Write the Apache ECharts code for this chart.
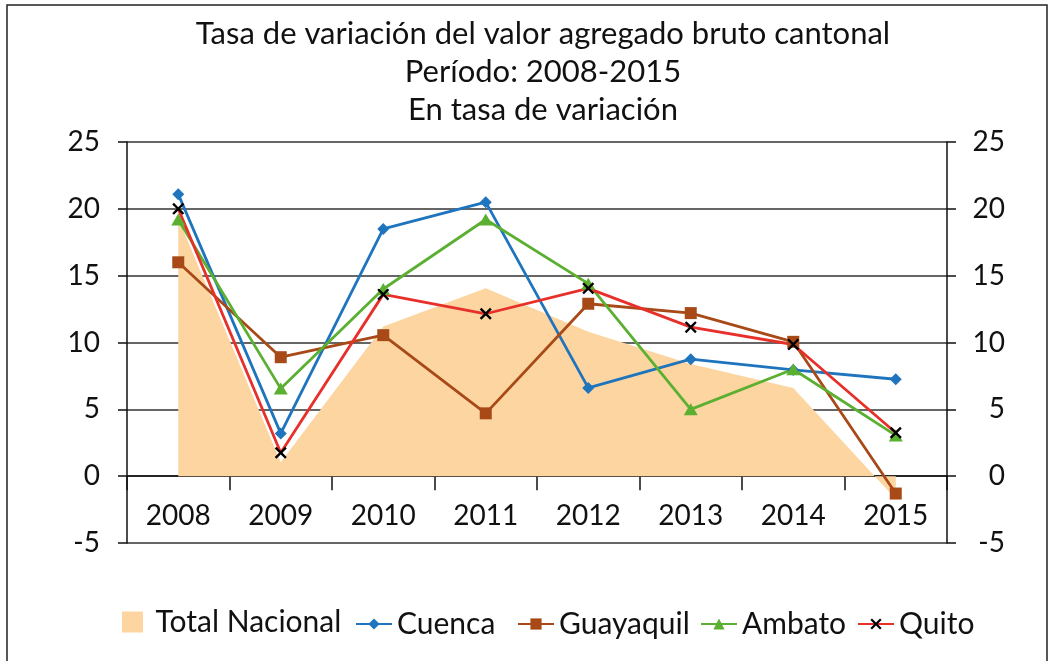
<!DOCTYPE html>
<html>
<head>
<meta charset="utf-8">
<script src="https://cdn.jsdelivr.net/npm/echarts@6/dist/echarts.min.js"></script>
<style>
    html, body { margin: 0; padding: 0; background: #fff; }
    #chart { width: 1055px; height: 661px; }
</style>
</head>
<body>
<div id="chart"></div>
<script>
const YEARS = ["2008", "2009", "2010", "2011", "2012", "2013", "2014", "2015"];
const TOTAL_NACIONAL = [19.3, 1.05, 11.2, 14.05, 10.8, 8.4, 6.6, -1.7];
const CUENCA = [21.1, 3.2, 18.5, 20.5, 6.6, 8.75, 7.95, 7.25];
const GUAYAQUIL = [16.0, 8.9, 10.55, 4.7, 12.9, 12.2, 10.05, -1.3];
const AMBATO = [19.2, 6.55, 14.0, 19.2, 14.4, 5.0, 8.0, 3.05];
const QUITO = [20.0, 1.75, 13.6, 12.15, 14.05, 11.15, 9.85, 3.25];
const Y_TICKS = { min: -5, max: 25, interval: 5 };

const FONT = "Lato";
const TEXT = "#111";
// cruz rellena para Quito
const CROSS = "path://M0,1.4L1.4,0L5,3.6L8.6,0L10,1.4L6.4,5L10,8.6L8.6,10L5,6.4L1.4,10L0,8.6L3.6,5Z";

const yAxisBase = {
    type: "value",
    min: Y_TICKS.min,
    max: Y_TICKS.max,
    interval: Y_TICKS.interval,
    axisLine: { show: true, lineStyle: { color: "#111", width: 1.5 } },
    axisTick: { show: true, inside: false, length: 9, lineStyle: { color: "#111", width: 1.5 } },
    axisLabel: { fontFamily: FONT, fontSize: 28, color: TEXT }
};

const lineSeries = (name, data, color, symbol, size, symbolColor) => ({
    name,
    type: "line",
    data,
    symbol,
    symbolSize: size,
    showAllSymbol: true,
    lineStyle: { color, width: 2.8 },
    itemStyle: { color: symbolColor || color },
    emphasis: { disabled: true }
});

// una leyenda por elemento, para colocarlos como en el original
const legendItem = (name, left, extra) => Object.assign({
    data: [name],
    left,
    top: 604,
    itemWidth: 36,
    itemHeight: 14,
    textStyle: { fontFamily: FONT, fontSize: 30, color: TEXT },
    selectedMode: false
}, extra || {});

const chart = echarts.init(document.getElementById("chart"), null, { renderer: "canvas" });

chart.setOption({
    animation: false,
    backgroundColor: "#fff",
    title: {
        text: "Tasa de variación del valor agregado bruto cantonal\nPeríodo: 2008-2015\nEn tasa de variación",
        left: 538,
        textAlign: "center",
        top: 10,
        textStyle: { fontFamily: FONT, fontSize: 31, fontWeight: "normal", color: TEXT, lineHeight: 38 }
    },
    graphic: [
        {
            type: "rect",
            shape: { x: 7, y: 5, width: 1040, height: 700 },
            style: { fill: "none", stroke: "#222", lineWidth: 1.5 },
            silent: true
        }
    ],
    legend: [
        legendItem({ name: "Total Nacional", icon: "path://M0,0H10V10H0Z" }, 117, { itemHeight: 21, top: 602 }),
        legendItem("Cuenca", 350),
        legendItem("Guayaquil", 512),
        legendItem("Ambato", 695),
        legendItem("Quito", 852)
    ],
    grid: { left: 127, right: 108, top: 142, bottom: 118, containLabel: false },
    xAxis: {
        type: "category",
        data: YEARS,
        boundaryGap: true,
        axisLine: { show: true, onZero: true, lineStyle: { color: "#111", width: 1.5 } },
        axisTick: { show: true, length: 14, lineStyle: { color: "#111", width: 1.5 } },
        axisLabel: { fontFamily: FONT, fontSize: 28, color: TEXT, margin: -41 },
        splitLine: { show: false }
    },
    yAxis: [
        Object.assign({}, yAxisBase, {
            position: "left",
            axisLabel: Object.assign({}, yAxisBase.axisLabel, { margin: 27 }),
            splitLine: { show: true, lineStyle: { color: "#333", width: 1.6 } }
        }),
        Object.assign({}, yAxisBase, {
            position: "right",
            axisLabel: Object.assign({}, yAxisBase.axisLabel, { margin: 58, align: "right" }),
            splitLine: { show: false }
        })
    ],
    series: [
        {
            name: "Total Nacional",
            type: "line",
            data: TOTAL_NACIONAL,
            symbol: "none",
            lineStyle: { width: 0, color: "#FCD5A1" },
            itemStyle: { color: "#FCD5A1" },
            areaStyle: { color: "#FCD5A1", opacity: 1 },
            emphasis: { disabled: true }
        },
        lineSeries("Cuenca", CUENCA, "#1F74BE", "diamond", 12),
        lineSeries("Guayaquil", GUAYAQUIL, "#A84A18", "rect", 12),
        lineSeries("Ambato", AMBATO, "#5BAF31", "triangle", [14, 12]),
        lineSeries("Quito", QUITO, "#E8302A", CROSS, 12, "#000")
    ]
});
</script>
</body>
</html>
